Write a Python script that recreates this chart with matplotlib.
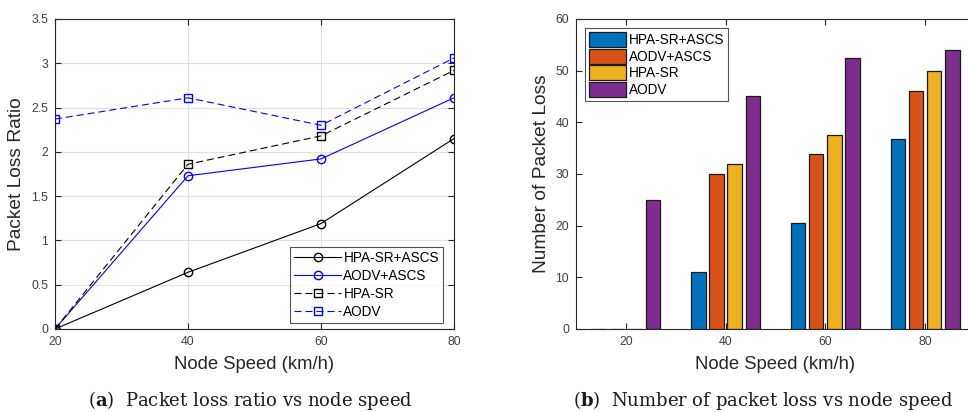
import numpy as np
import matplotlib
matplotlib.use("Agg")
import matplotlib.pyplot as plt

plt.rcParams['font.family'] = ['Liberation Sans', 'DejaVu Sans']
plt.rcParams['mathtext.fontset'] = 'custom'
plt.rcParams['mathtext.rm'] = 'DejaVu Serif'
plt.rcParams['mathtext.bf'] = 'DejaVu Serif:bold'

# data
speeds = [20, 40, 60, 80]
series = ['HPA-SR+ASCS', 'AODV+ASCS', 'HPA-SR', 'AODV']

ratio_hpa_ascs = [0.0, 0.64, 1.19, 2.15]
ratio_aodv_ascs = [0.0, 1.73, 1.92, 2.61]
ratio_hpa = [0.0, 1.86, 2.18, 2.92]
ratio_aodv = [2.37, 2.61, 2.30, 3.06]

loss_hpa_ascs = [0, 11, 20.5, 36.8]
loss_aodv_ascs = [0, 30, 33.8, 46]
loss_hpa = [0, 32, 37.5, 50]
loss_aodv = [25, 45, 52.5, 54]

tick_col = '#404040'
dash = (6.3, 3.6)
fig = plt.figure(figsize=(9.68, 4.12), dpi=100)

# (a) packet loss ratio
ax1 = fig.add_axes([0.0568, 0.2015, 0.4122, 0.7524])
ax1.plot(speeds, ratio_hpa_ascs, 'k-', marker='o', mfc='none', ms=6, lw=0.8, label=series[0])
ax1.plot(speeds, ratio_aodv_ascs, '-', color='#0000ff', marker='o', mfc='none', ms=6, lw=0.8, label=series[1])
ax1.plot(speeds, ratio_hpa, 'k--', dashes=dash, marker='s', mfc='none', ms=5.5, lw=0.8, label=series[2])
ax1.plot(speeds, ratio_aodv, '--', dashes=dash, color='#0000ff', marker='s', mfc='none', ms=5.5, lw=0.8, label=series[3])
ax1.set_xlim(20, 80)
ax1.set_ylim(0, 3.5)
ax1.set_xticks(speeds)
ax1.set_yticks(np.arange(0, 3.51, 0.5))
ax1.set_yticklabels(['0', '0.5', '1', '1.5', '2', '2.5', '3', '3.5'])
ax1.grid(True, color='#e0e0e0', lw=0.8)
ax1.set_axisbelow(True)
ax1.set_xlabel('Node Speed (km/h)', fontsize=13.3, color='#262626', labelpad=6)
ax1.set_ylabel('Packet Loss Ratio', fontsize=13.8, color='#262626', labelpad=4)
leg1 = ax1.legend(loc='lower right', bbox_to_anchor=(0.9724, 0.019), borderaxespad=0,
                  fontsize=9.8, fancybox=False, edgecolor='#262626',
                  handlelength=3.4, labelspacing=0.3, handletextpad=0.2, borderpad=0.3)
leg1.get_frame().set_linewidth(0.8)

# (b) number of packet loss
ax2 = fig.add_axes([0.595, 0.2015, 0.4122, 0.7524])
x = np.array(speeds)
colors = ['#0072BD', '#D95319', '#EDB120', '#7E2F8E']
offsets = [-5.45, -1.82, 1.82, 5.45]
vals = [loss_hpa_ascs, loss_aodv_ascs, loss_hpa, loss_aodv]
for off, v, c, name in zip(offsets, vals, colors, series):
    ax2.bar(x + off, v, width=2.9, color=c, edgecolor='#1a1a1a', lw=0.9, label=name)
ax2.set_xlim(10, 90)
ax2.set_ylim(0, 60)
ax2.set_xticks(speeds)
ax2.set_yticks(range(0, 61, 10))
ax2.set_xlabel('Node Speed (km/h)', fontsize=13.3, color='#262626', labelpad=6)
ax2.set_ylabel('Number of Packet Loss', fontsize=13.8, color='#262626', labelpad=4)
leg2 = ax2.legend(loc='upper left', bbox_to_anchor=(0.0226, 0.971), borderaxespad=0,
                  fontsize=9.8, fancybox=False, edgecolor='#262626',
                  handlelength=2.7, handleheight=1.3, labelspacing=0.12,
                  handletextpad=0.2, borderpad=0.3)
leg2.get_frame().set_linewidth(0.8)

for ax in (ax1, ax2):
    ax.tick_params(direction='in', top=True, right=True, labelsize=8.8, pad=5,
                   colors='#262626', labelcolor=tick_col, length=4, width=0.8)
    for s in ax.spines.values():
        s.set_color('#262626')
        s.set_linewidth(0.8)

fig.text(0.259, 0.027, r'($\mathbf{a}$)  Packet loss ratio vs node speed',
         ha='center', va='center', fontsize=13, family='DejaVu Serif', color='#1a1a1a')
fig.text(0.788, 0.027, r'($\mathbf{b}$)  Number of packet loss vs node speed',
         ha='center', va='center', fontsize=13, family='DejaVu Serif', color='#1a1a1a')

fig.savefig('out.png', dpi=100)
